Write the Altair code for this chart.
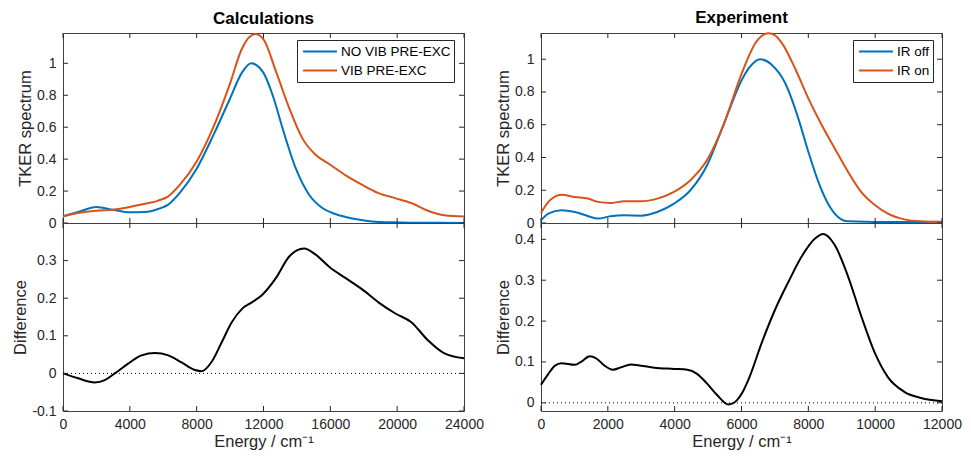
import altair as alt
import pandas as pd

# ---------------- data ----------------
calc_no_x = [0, 900, 2000, 3000, 4000, 4900, 5700, 6300, 7000, 8000, 9000, 10000, 10700, 11260,
             12000, 12550, 13150, 13940, 14730, 15520, 16300, 17500, 18480, 19870, 21000, 22500, 24000]
calc_no_y = [0.042, 0.069, 0.10, 0.083, 0.067, 0.069, 0.088, 0.115, 0.19, 0.34, 0.55, 0.78, 0.94, 1.0,
             0.94, 0.80, 0.59, 0.34, 0.177, 0.094, 0.056, 0.025, 0.01, 0.004, 0.002, 0.001, 0.0]

calc_vib_x = [0, 900, 2000, 3000, 4000, 4900, 5700, 6300, 7000, 8000, 9000, 10000, 10700, 11500,
              12000, 12750, 13540, 14330, 15120, 16000, 16900, 17890, 18880, 19870, 20850, 21840,
              22830, 24000]
calc_vib_y = [0.042, 0.0625, 0.077, 0.083, 0.10, 0.12, 0.14, 0.167, 0.24, 0.385, 0.60, 0.875, 1.09, 1.183,
              1.15, 0.948, 0.72, 0.53, 0.427, 0.365, 0.30, 0.24, 0.1875, 0.156, 0.125, 0.077,
              0.048, 0.04]

diff_calc_x = [0, 900, 1900, 2500, 3100, 3900, 4700, 5500, 6300, 7100, 7900, 8300, 8900, 9500, 10100,
               10700, 11300, 11900, 12750, 13540, 14430, 15120, 16000, 16900, 17890, 18880, 19870,
               20850, 21840, 22830, 24000]
diff_calc_y = [0, -0.013, -0.024, -0.018, 0, 0.026, 0.048, 0.054, 0.048, 0.029, 0.009, 0.006, 0.031,
               0.083, 0.136, 0.171, 0.189, 0.208, 0.254, 0.311, 0.332, 0.316, 0.281, 0.254, 0.224,
               0.189, 0.16, 0.136, 0.088, 0.053, 0.04]

exp_off_x = [0, 220, 610, 1010, 1400, 1700, 2080, 2490, 2990, 3480, 3980, 4470, 4970, 5460, 6000, 6220,
             6560, 6910, 7310, 7700, 8000, 8300, 8590, 8890, 9190, 9680, 10000, 10870, 11960, 12000]
exp_off_y = [0.016, 0.057, 0.078, 0.067, 0.043, 0.027, 0.041, 0.047, 0.045, 0.067, 0.118, 0.20, 0.353,
             0.598, 0.87, 0.945, 1.0, 0.965, 0.853, 0.639, 0.435, 0.251, 0.118, 0.037, 0.01, 0.008,
             0.006, 0.006, 0.008, 0.008]

exp_on_x = [0, 220, 610, 1010, 1400, 1700, 2080, 2490, 2990, 3480, 3980, 4470, 4970, 5460, 6000, 6200,
            6420, 6620, 6810, 7010, 7210, 7600, 8000, 8400, 8790, 9190, 9580, 10000, 10380, 10870,
            11360, 12000]
exp_on_y = [0.061, 0.129, 0.173, 0.159, 0.149, 0.129, 0.122, 0.133, 0.133, 0.149, 0.19, 0.261, 0.384,
            0.598, 0.91, 1.01, 1.10, 1.145, 1.159, 1.145, 1.098, 0.945, 0.761, 0.598, 0.455, 0.312,
            0.19, 0.108, 0.057, 0.022, 0.01, 0.006]

diff_exp_x = [0, 220, 420, 610, 1010, 1210, 1460, 1650, 1900, 2150, 2400, 2690, 2990, 3390, 3980, 4380,
              4670, 4970, 5270, 5610, 5860, 6040, 6220, 6610, 7010, 7410, 7800, 8200, 8450, 8790,
              9190, 9580, 9980, 10380, 10870, 11370, 12000]
diff_exp_y = [0.044, 0.071, 0.091, 0.097, 0.093, 0.101, 0.114, 0.109, 0.091, 0.081, 0.087, 0.094, 0.091,
              0.086, 0.083, 0.081, 0.071, 0.047, 0.019, -0.004, 0.006, 0.027, 0.059, 0.148, 0.229,
              0.297, 0.358, 0.402, 0.413, 0.386, 0.309, 0.213, 0.124, 0.063, 0.027, 0.012, 0.004]

calc_series = ["NO VIB PRE-EXC", "VIB PRE-EXC"]
exp_series = ["IR off", "IR on"]

calc_xticks = [0, 4000, 8000, 12000, 16000, 20000, 24000]
exp_xticks = [0, 2000, 4000, 6000, 8000, 10000, 12000]
top_yticks = [0, 0.2, 0.4, 0.6, 0.8, 1]
diff_calc_yticks = [-0.1, 0, 0.1, 0.2, 0.3]
diff_exp_yticks = [0, 0.1, 0.2, 0.3, 0.4]
zero_line = [0]

# ---------------- style ----------------
W = 401
H_TOP = 190
H_BOT = 188
TICK = 5
AX = "#262626"
BLUE = "#0072BD"
ORANGE = "#D95319"
FONT = "Liberation Sans"
LABEL_EXPR = "datum.value < 0 ? '-' + format(-datum.value, '~g') : format(datum.value, '~g')"


def xenc(domain, ticks, labelled):
    scale = alt.Scale(domain=domain, nice=False, zero=False)
    if labelled:
        axis = alt.Axis(values=ticks, format="d", title="Energy / cm\u207b\u00b9", ticks=False,
                        domain=False, grid=False, labelPadding=6, titlePadding=2,
                        labelFlush=False)
        return alt.X("E:Q", scale=scale, axis=axis)
    return alt.X("E:Q", scale=scale, axis=None)


def yenc(domain, ticks, title):
    scale = alt.Scale(domain=domain, nice=False, zero=False)
    axis = alt.Axis(values=ticks, labelExpr=LABEL_EXPR, title=title, ticks=False, domain=False,
                    grid=False, labelPadding=7, titlePadding=3)
    return alt.Y("V:Q", scale=scale, axis=axis)


def panel(lines_df, series, xd, xt, yd, yt, h, ytitle, labelled, title=None, legend_x=None,
          zero=False):
    X = xenc(xd, xt, labelled)
    Y = yenc(yd, yt, ytitle)
    layers = []
    if series is not None:
        legend = alt.Legend(title=None, orient="none", legendX=legend_x, legendY=7,
                            symbolType="stroke", symbolStrokeWidth=2, symbolSize=1150,
                            clipHeight=17, labelFont=FONT, labelFontSize=13.5, labelColor="black",
                            strokeColor=AX, fillColor="white", padding=3, labelOffset=3,
                            symbolOffset=2)
        color = alt.Color("series:N", scale=alt.Scale(domain=series, range=[BLUE, ORANGE]),
                          legend=legend)
        layers.append(alt.Chart(lines_df).mark_line(strokeWidth=2, interpolate="monotone")
                      .encode(x=X, y=Y, color=color))
    else:
        layers.append(alt.Chart(lines_df).mark_line(strokeWidth=2, interpolate="monotone",
                                                     color="black").encode(x=X, y=Y))
    if zero:
        layers.append(alt.Chart(pd.DataFrame({"V": zero_line}))
                      .mark_rule(color="black", strokeWidth=1, strokeDash=[1, 3]).encode(y=Y))
    xt_df = pd.DataFrame({"E": xt})
    yt_df = pd.DataFrame({"V": yt})
    layers.append(alt.Chart(xt_df).mark_rule(color=AX, strokeWidth=1)
                  .encode(x=X, y=alt.value(h), y2=alt.value(h - TICK)))
    layers.append(alt.Chart(xt_df).mark_rule(color=AX, strokeWidth=1)
                  .encode(x=X, y=alt.value(0), y2=alt.value(TICK)))
    layers.append(alt.Chart(yt_df).mark_rule(color=AX, strokeWidth=1)
                  .encode(y=Y, x=alt.value(0), x2=alt.value(TICK)))
    layers.append(alt.Chart(yt_df).mark_rule(color=AX, strokeWidth=1)
                  .encode(y=Y, x=alt.value(W), x2=alt.value(W - TICK)))
    ch = alt.layer(*layers)
    props = dict(width=W, height=h)
    if title is not None:
        props["title"] = alt.TitleParams(title, fontSize=17, fontWeight="bold", font=FONT,
                                         color="black", offset=2, anchor="middle")
    return ch.properties(**props)


def lines(xs_list, ys_list, names):
    rows = []
    for xs, ys, n in zip(xs_list, ys_list, names):
        for x, y in zip(xs, ys):
            rows.append({"E": x, "V": y, "series": n})
    return pd.DataFrame(rows)


calc_df = lines([calc_no_x, calc_vib_x], [calc_no_y, calc_vib_y], calc_series)
exp_df = lines([exp_off_x, exp_on_x], [exp_off_y, exp_on_y], exp_series)
dcalc_df = pd.DataFrame({"E": diff_calc_x, "V": diff_calc_y})
dexp_df = pd.DataFrame({"E": diff_exp_x, "V": diff_exp_y})

tl = panel(calc_df, calc_series, [0, 24000], calc_xticks, [0, 1.19], top_yticks, H_TOP,
           "TKER spectrum", False, title="Calculations", legend_x=234)
bl = panel(dcalc_df, None, [0, 24000], calc_xticks, [-0.1, 0.4], diff_calc_yticks, H_BOT,
           "Difference", True, zero=True)
tr = panel(exp_df, exp_series, [0, 12000], exp_xticks, [0, 1.16], top_yticks, H_TOP,
           "TKER spectrum", False, title="Experiment", legend_x=312)
br = panel(dexp_df, None, [0, 12000], exp_xticks, [-0.02, 0.44], diff_exp_yticks, H_BOT,
           "Difference", True, zero=True)

chart = alt.concat(tl, tr, bl, br, columns=2, bounds="flush",
                   spacing=alt.RowColnumber(row=0, column=77)).resolve_scale(
    x="independent", y="independent", color="independent"
).configure_view(stroke="#404040", strokeWidth=1).configure_axis(
    labelFont=FONT, titleFont=FONT, labelFontSize=14, titleFontSize=16.5,
    labelColor=AX, titleColor=AX, titleFontWeight="normal"
).properties(background="white",
             padding={"left": 4, "top": 0, "right": 0, "bottom": 0})

chart.save("out.html", embed_options={"renderer": "svg", "actions": False})
